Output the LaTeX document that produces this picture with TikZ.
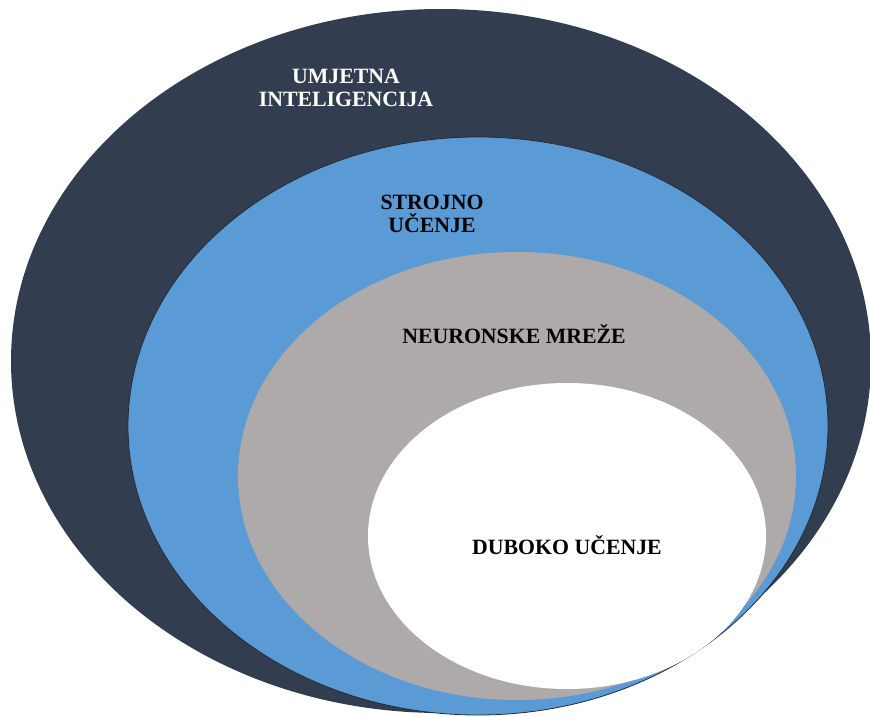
\documentclass[tikz,border=0pt]{standalone}
\usepackage{fontspec}
\setmainfont{Liberation Serif}
\definecolor{aiNavy}{HTML}{323D4F}
\definecolor{mlBlue}{HTML}{5B9BD5}
\definecolor{nnGray}{HTML}{AEAAAA}
\begin{document}
\begin{tikzpicture}[x=1pt, y=-1pt,
    every node/.style={font=\fontsize{21.8}{23}\selectfont\bfseries, align=center, inner sep=0pt},
    label/.style={text=black}]
\useasboundingbox (0,0) rectangle (870,717);
% Layers
    \fill[aiNavy] (441,361) ellipse[x radius=430, y radius=352];
    \filldraw[fill=mlBlue, draw=aiNavy!70!black, line width=0.8pt] (478,426) ellipse[x radius=350, y radius=289];
    \fill[nnGray] (517,476) ellipse[x radius=279, y radius=224];
    \fill[white] (567,536) ellipse[x radius=199, y radius=153];
% Labels
    \node[text=white] (ai) at (346,88) {UMJETNA\\INTELIGENCIJA};
    \node[label] (ml) at (432,214) {STROJNO\\UČENJE};
    \node[label, anchor=base] (nn) at (514,343) {NEURONSKE MREŽE};
    \node[label, anchor=base] (dl) at (567,554) {DUBOKO UČENJE};
\end{tikzpicture}
\end{document}
